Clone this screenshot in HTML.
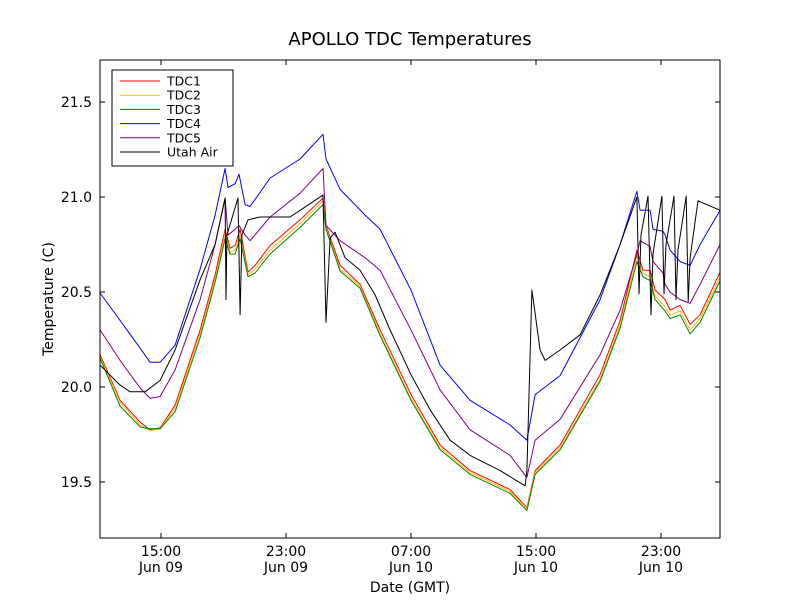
<!DOCTYPE html>
<html><head><meta charset="utf-8"><style>
body{margin:0;background:#fff;}
svg{display:block;font-family:"DejaVu Sans","Liberation Sans",sans-serif;}
</style></head><body>
<svg id="chart" width="800" height="600">
<rect x="0" y="0" width="800" height="600" fill="#fff"/>
<text x="410" y="45" text-anchor="middle" font-size="18">APOLLO TDC Temperatures</text>
<g id="series"></g>
<rect x="100" y="60" width="620" height="478" fill="none" stroke="#000" stroke-width="1"/>
<g id="ticks"></g>
<text transform="translate(53,299) rotate(-90)" text-anchor="middle" font-size="14">Temperature (C)</text>
<text x="410" y="592" text-anchor="middle" font-size="14">Date (GMT)</text>
<g id="legend"></g>
</svg>
<script>
const tdcTimes=[11.10,12.38,13.66,14.30,14.94,15.90,17.50,18.46,19.10,19.42,19.74,20.06,20.57,21.02,21.98,23.90,25.37,25.56,26.46,27.74,29.02,31.00,32.86,34.78,37.34,38.42,38.94,40.54,43.10,44.38,45.46,45.85,46.30,46.62,47.26,47.58,48.22,48.86,49.50,50.78];
const tdc1=[20.17,19.93,19.815,19.775,19.785,19.905,20.30,20.59,20.83,20.73,20.745,20.83,20.605,20.64,20.745,20.88,20.995,20.85,20.64,20.54,20.30,19.96,19.695,19.56,19.46,19.365,19.56,19.695,20.065,20.35,20.72,20.615,20.615,20.51,20.46,20.405,20.43,20.33,20.38,20.605];
const tdc2=[20.16,19.92,19.80,19.77,19.78,19.89,20.28,20.57,20.80,20.71,20.72,20.80,20.59,20.62,20.72,20.86,20.98,20.84,20.62,20.53,20.28,19.94,19.68,19.55,19.45,19.36,19.55,19.68,20.04,20.33,20.69,20.60,20.58,20.48,20.42,20.38,20.40,20.30,20.36,20.58];
const tdc3=[20.15,19.90,19.79,19.78,19.78,19.87,20.26,20.55,20.78,20.70,20.70,20.78,20.58,20.60,20.70,20.84,20.96,20.83,20.61,20.52,20.27,19.93,19.67,19.54,19.44,19.35,19.54,19.67,20.03,20.31,20.66,20.58,20.56,20.46,20.40,20.36,20.38,20.28,20.34,20.56];
const tdc4Times=[11.10,12.38,13.66,14.30,14.94,15.90,17.50,18.46,19.10,19.29,19.74,19.99,20.38,20.70,21.98,23.90,25.37,25.56,26.46,28.06,29.02,31.00,32.86,34.78,37.34,38.42,38.94,40.54,43.10,44.38,45.46,45.66,46.30,46.49,47.13,47.26,47.58,48.22,48.86,49.50,50.78];
const tdc4=[20.495,20.35,20.205,20.13,20.13,20.22,20.62,20.905,21.15,21.05,21.07,21.12,20.96,20.95,21.10,21.20,21.33,21.20,21.04,20.905,20.83,20.51,20.115,19.93,19.80,19.72,19.96,20.06,20.46,20.75,21.03,20.93,20.93,20.83,20.82,20.80,20.72,20.66,20.64,20.75,20.93];
const tdc5Times=[11.10,12.38,13.66,14.30,14.94,15.90,17.50,18.46,19.10,19.29,19.74,19.99,20.38,20.70,21.98,23.90,25.37,25.56,26.46,28.06,29.02,31.00,32.86,34.78,37.34,38.42,38.94,40.54,43.10,44.38,45.46,45.66,46.30,46.49,47.13,47.26,47.58,48.22,48.86,49.50,50.78];
const tdc5=[20.30,20.14,19.995,19.94,19.95,20.09,20.46,20.75,20.995,20.80,20.83,20.85,20.80,20.77,20.895,21.02,21.15,20.85,20.77,20.68,20.615,20.30,19.985,19.775,19.64,19.525,19.72,19.83,20.17,20.405,20.70,20.77,20.74,20.66,20.60,20.54,20.50,20.46,20.44,20.54,20.75];
const airTimes=[11.10,12.38,13.02,13.98,14.94,15.90,17.50,18.46,19.10,19.16,19.22,19.93,20.06,20.18,20.57,21.34,23.26,23.90,25.37,25.56,25.82,26.14,26.78,27.74,28.70,29.66,31.00,32.22,33.50,34.78,36.70,38.30,38.42,38.74,39.26,39.58,40.54,41.82,43.10,44.38,45.46,45.59,45.72,46.17,46.36,46.49,47.06,47.19,47.32,47.83,47.96,48.09,48.61,48.74,48.86,49.37,50.78];
const air=[20.115,20.01,19.975,19.975,20.035,20.195,20.565,20.75,20.995,20.46,20.80,20.995,20.38,20.80,20.88,20.895,20.895,20.93,21.01,20.34,20.785,20.815,20.68,20.615,20.485,20.30,20.065,19.88,19.72,19.64,19.56,19.48,19.56,20.51,20.195,20.14,20.195,20.275,20.485,20.75,21.0,20.49,20.80,21.005,20.38,20.70,21.005,20.49,20.75,21.005,20.46,20.72,21.005,20.45,20.68,20.98,20.93];
const yTicks=[19.5,20.0,20.5,21.0,21.5];
const yTickLabels=["19.5","20.0","20.5","21.0","21.5"];
const xTicks=[15,23,31,39,47];
const xTickLabels=[["15:00","Jun 09"],["23:00","Jun 09"],["07:00","Jun 10"],["15:00","Jun 10"],["23:00","Jun 10"]];
const seriesNames=["TDC1","TDC2","TDC3","TDC4","TDC5","Utah Air"];
const seriesColors=["#ff0000","#ffbf00","#008000","#0000ff","#800080","#000000"];

const X0=100,X1=720,Y0=60,Y1=538,TMIN=11.096,TMAX=50.776,VMIN=19.2053,VMAX=21.7211;
function sx(t){return X0+(t-TMIN)/(TMAX-TMIN)*(X1-X0);}
function sy(v){return Y1-(v-VMIN)/(VMAX-VMIN)*(Y1-Y0);}
const NS="http://www.w3.org/2000/svg";
const sg=document.getElementById('series');
const all=[[tdcTimes,tdc1],[tdcTimes,tdc2],[tdcTimes,tdc3],[tdc4Times,tdc4],[tdc5Times,tdc5],[airTimes,air]];
all.forEach((s,i)=>{
  const p=document.createElementNS(NS,'polyline');
  p.setAttribute('points',s[0].map((t,j)=>sx(t).toFixed(1)+','+sy(s[1][j]).toFixed(1)).join(' '));
  p.setAttribute('fill','none');p.setAttribute('stroke',seriesColors[i]);p.setAttribute('stroke-width','1');p.setAttribute('stroke-linejoin','round');
  
  
  sg.appendChild(p);
});
const tg=document.getElementById('ticks');
yTicks.forEach((v,i)=>{
  const y=sy(v);
  [[X0,X0+5],[X1,X1-5]].forEach(a=>{const l=document.createElementNS(NS,'line');l.setAttribute('x1',a[0]);l.setAttribute('x2',a[1]);l.setAttribute('y1',y);l.setAttribute('y2',y);l.setAttribute('stroke','#000');
  
  
  tg.appendChild(l);});
  const t=document.createElementNS(NS,'text');t.setAttribute('x',X0-8);t.setAttribute('y',y+5);t.setAttribute('text-anchor','end');t.setAttribute('font-size','14');t.textContent=yTickLabels[i];
  
  
  tg.appendChild(t);
});
xTicks.forEach((h,i)=>{
  const x=sx(h);
  [[Y1,Y1-5],[Y0,Y0+5]].forEach(a=>{const l=document.createElementNS(NS,'line');l.setAttribute('x1',x);l.setAttribute('x2',x);l.setAttribute('y1',a[0]);l.setAttribute('y2',a[1]);l.setAttribute('stroke','#000');
  
  
  tg.appendChild(l);});
  xTickLabels[i].forEach((s,k)=>{const t=document.createElementNS(NS,'text');t.setAttribute('x',x);t.setAttribute('y',556+k*16);t.setAttribute('text-anchor','middle');t.setAttribute('font-size','14');t.textContent=s;
  
  
  tg.appendChild(t);});
});
const lg=document.getElementById('legend');
const box=document.createElementNS(NS,'rect');box.setAttribute('x',112);box.setAttribute('y',70);box.setAttribute('width',121);box.setAttribute('height',96);box.setAttribute('fill','#fff');box.setAttribute('stroke','#000');


lg.appendChild(box);
seriesNames.forEach((n,i)=>{
  const y=81+i*14.2;
  const l=document.createElementNS(NS,'line');l.setAttribute('x1',120);l.setAttribute('x2',160);l.setAttribute('y1',y);l.setAttribute('y2',y);l.setAttribute('stroke',seriesColors[i]);
  
  
  lg.appendChild(l);
  const t=document.createElementNS(NS,'text');t.setAttribute('x',167);t.setAttribute('y',y+4.5);t.setAttribute('font-size','12.5');t.textContent=n;
  
  
  lg.appendChild(t);
});
</script>
</body></html>
